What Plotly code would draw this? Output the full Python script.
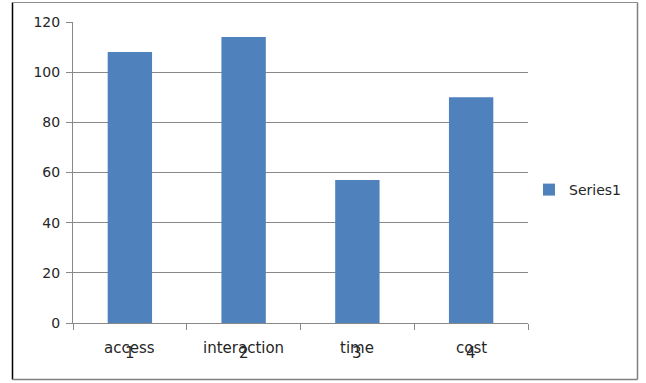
import plotly.graph_objects as go

# Chart data
categories = ["access", "interaction", "time", "cost"]
category_numbers = ["1", "2", "3", "4"]
values = [108, 114, 57, 90]
series_name = "Series1"
y_ticks = [0, 20, 40, 60, 80, 100, 120]

W, H = 646, 383
L, R, T, B = 73, 118, 22, 60
plot_w = W - L - R
plot_h = H - T - B

bar_color = "#4F81BD"
grid_color = "#898989"
text_color = "#262626"
font_family = "DejaVu Sans"

positions = list(range(1, len(categories) + 1))

fig = go.Figure()
fig.add_trace(go.Bar(
    x=positions,
    y=values,
    name=series_name,
    marker=dict(color=bar_color, line=dict(width=0)),
    width=0.39,
    showlegend=True,
))


def px_x(px):
    return (px - L) / plot_w


def px_y(py):
    return (H - B - py) / plot_h


# Category names with their index numbers printed over them
annotations = []
for pos, name, num in zip(positions, categories, category_numbers):
    annotations.append(dict(x=pos, y=px_y(348), xref="x", yref="paper", text=name,
                            showarrow=False, font=dict(family=font_family, size=15, color=text_color),
                            xanchor="center", yanchor="middle"))
    annotations.append(dict(x=pos, y=px_y(353), xref="x", yref="paper", text=num,
                            showarrow=False, font=dict(family=font_family, size=15, color=text_color),
                            xanchor="center", yanchor="middle"))

# Outer chart border
shapes = [
    dict(type="line", xref="paper", yref="paper", x0=px_x(12.5), x1=px_x(12.5),
         y0=px_y(2.5), y1=px_y(379.5), line=dict(color="#000000", width=1.5)),
    dict(type="line", xref="paper", yref="paper", x0=px_x(12.5), x1=px_x(637.5),
         y0=px_y(379.5), y1=px_y(379.5), line=dict(color="#808080", width=1.5)),
    dict(type="line", xref="paper", yref="paper", x0=px_x(637.5), x1=px_x(637.5),
         y0=px_y(2.5), y1=px_y(379.5), line=dict(color="#808080", width=1.5)),
    dict(type="line", xref="paper", yref="paper", x0=px_x(12.5), x1=px_x(637.5),
         y0=px_y(2.5), y1=px_y(2.5), line=dict(color="#8c8c8c", width=1)),
]

fig.update_layout(
    width=W, height=H,
    margin=dict(l=L, r=R, t=T, b=B, pad=0, autoexpand=False),
    paper_bgcolor="white",
    plot_bgcolor="white",
    font=dict(family=font_family, size=14, color=text_color),
    xaxis=dict(
        range=[0.5, 4.5],
        tickvals=[0.5, 1.5, 2.5, 3.5, 4.5],
        ticktext=["", "", "", "", ""],
        ticks="outside", ticklen=6, tickcolor=grid_color, tickwidth=1,
        showgrid=False, zeroline=False,
        showline=True, linecolor=grid_color, linewidth=1,
        fixedrange=True,
    ),
    yaxis=dict(
        range=[0, 120],
        tickvals=y_ticks,
        ticks="outside", ticklen=6, tickcolor=grid_color, tickwidth=1,
        showgrid=True, gridcolor=grid_color, gridwidth=1,
        zeroline=False,
        showline=True, linecolor=grid_color, linewidth=1,
        tickfont=dict(family=font_family, size=14, color=text_color),
        ticklabelstandoff=3,
        fixedrange=True,
    ),
    legend=dict(
        x=px_x(529), y=px_y(190), xanchor="left", yanchor="middle",
        font=dict(family=font_family, size=14, color=text_color),
        bgcolor="rgba(0,0,0,0)", itemwidth=30,
    ),
    annotations=annotations,
    shapes=shapes,
)

fig.write_html("out.html")
